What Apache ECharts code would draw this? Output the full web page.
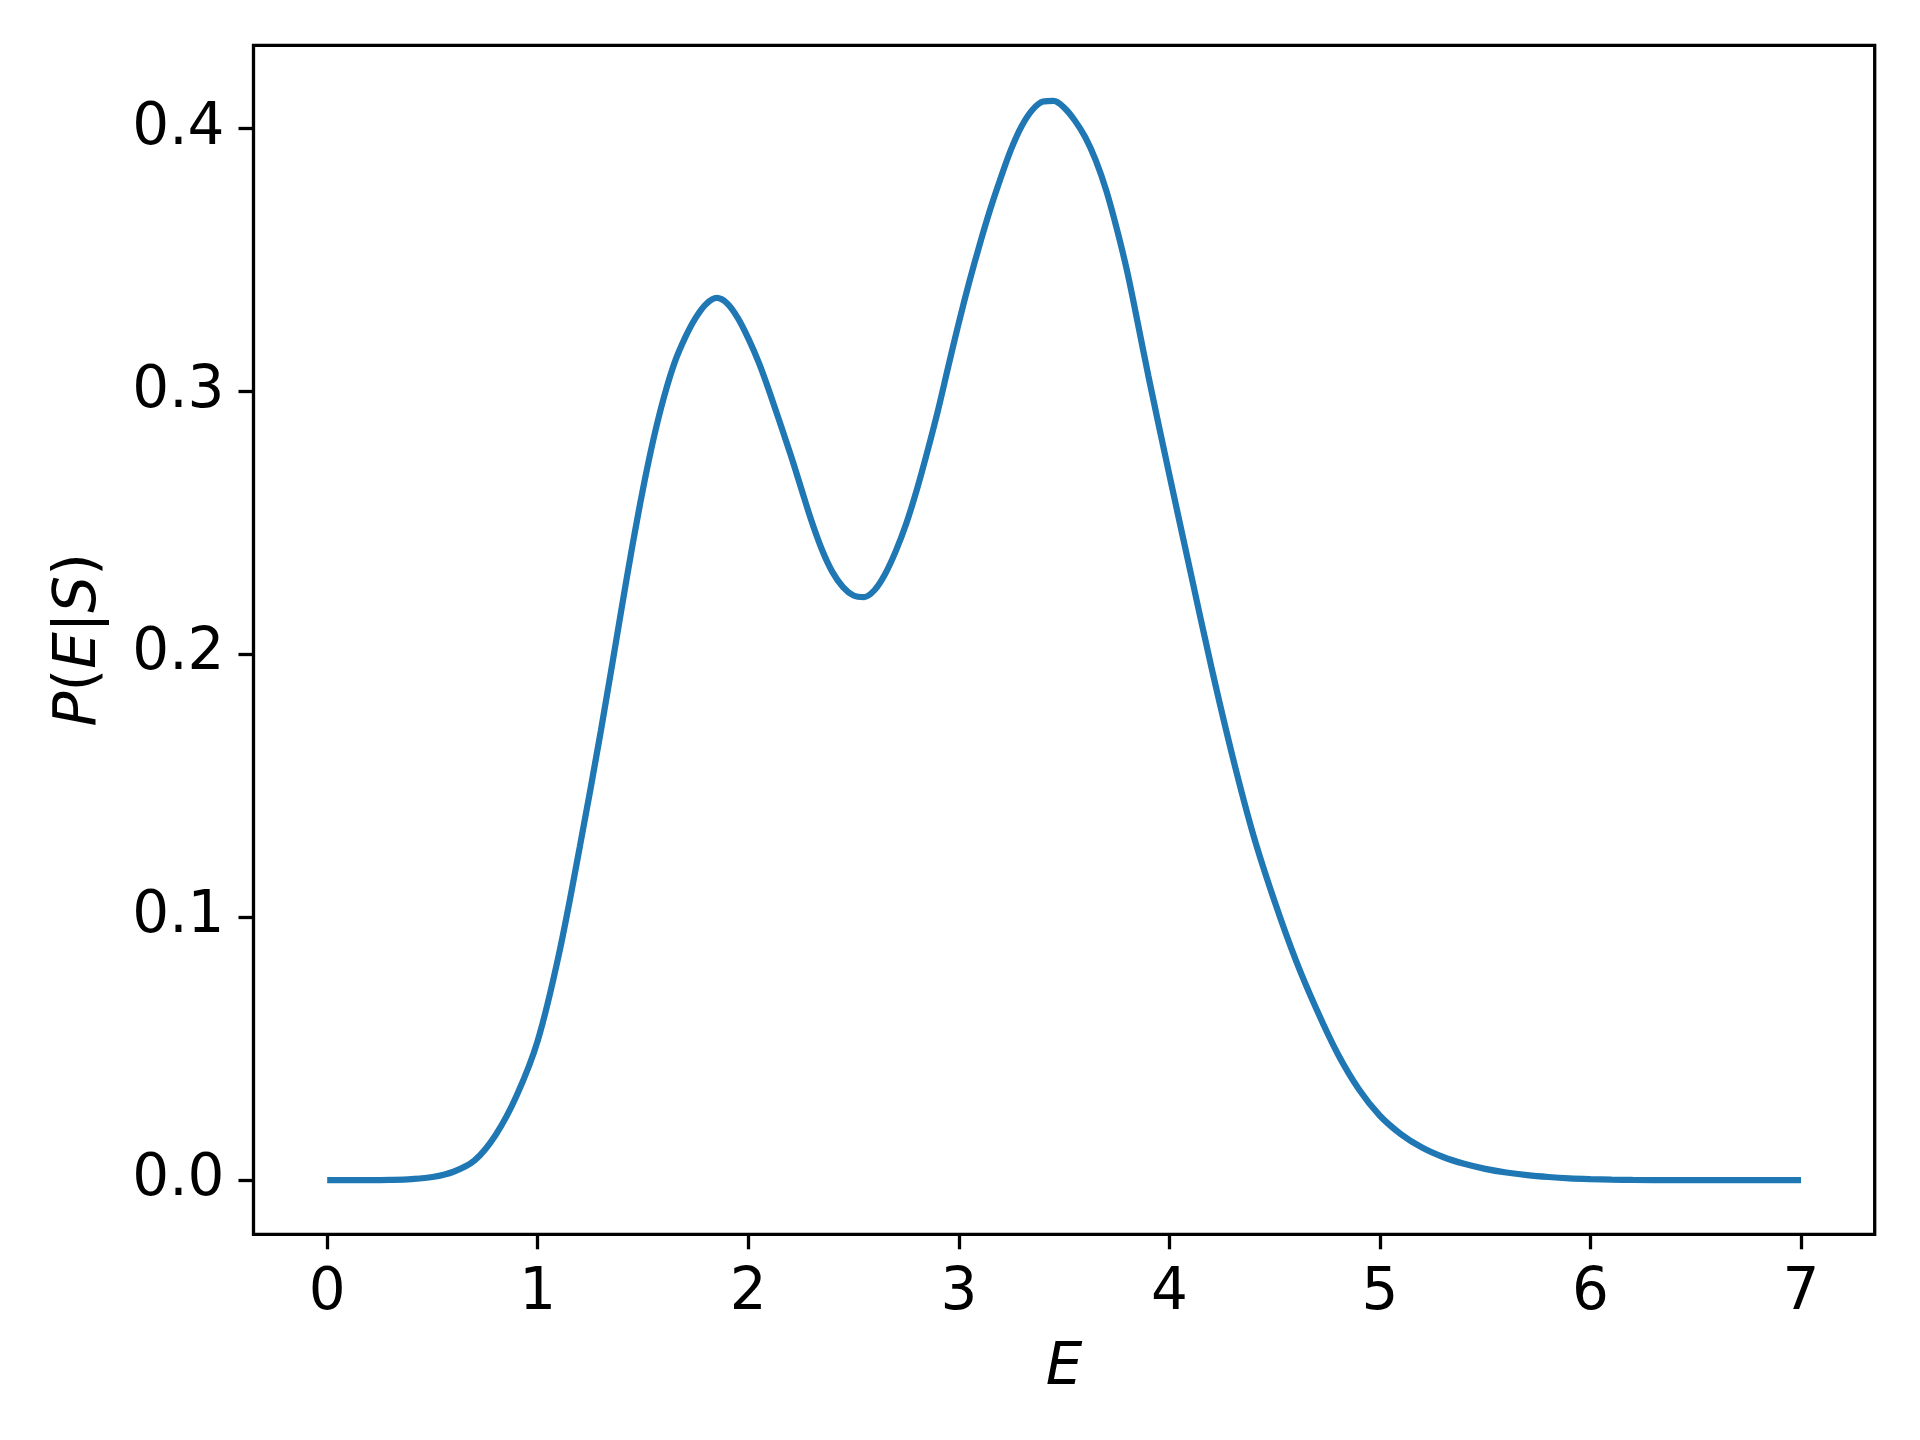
<!DOCTYPE html>
<html>
<head>
<meta charset="utf-8">
<script src="https://cdn.jsdelivr.net/npm/echarts@6/dist/echarts.min.js"></script>
<style>
  html, body { margin: 0; padding: 0; background: #fff; }
  #chart { width: 1920px; height: 1440px; }
</style>
</head>
<body>
<div id="chart"></div>
<script>
// E values (x) and P(E|S), denser around the peaks and the dip
var energy = [
    0.0, 0.1, 0.2, 0.3, 0.4, 0.5, 0.6, 0.7, 0.8, 0.9,
    1.0, 1.1, 1.2, 1.3, 1.4, 1.45, 1.5, 1.55, 1.6, 1.65, 1.7,
    1.75, 1.8, 1.85, 1.9, 1.95, 2.0, 2.05, 2.1, 2.2, 2.25,
    2.3, 2.35, 2.4, 2.45, 2.5, 2.55, 2.6, 2.65, 2.7, 2.75,
    2.8, 2.85, 2.9, 2.95, 3.0, 3.05, 3.1, 3.15, 3.2, 3.25,
    3.3, 3.35, 3.4, 3.45, 3.5, 3.55, 3.6, 3.65, 3.7, 3.75,
    3.8, 3.85, 3.9, 4.0, 4.1, 4.2, 4.3, 4.4, 4.5, 4.6,
    4.7, 4.8, 4.9, 5.0, 5.1, 5.2, 5.3, 5.4, 5.5, 5.6,
    5.7, 5.8, 5.9, 6.0, 6.1, 6.2, 6.4, 6.6, 6.8, 7.0
]
var prob = [
    0.0000, 0.0000, 0.0000, 0.0001, 0.0004, 0.0012, 0.0032, 0.0075, 0.0172, 0.0322,
    0.0531, 0.0857, 0.1269, 0.1710, 0.2183, 0.2415, 0.2630, 0.2820, 0.2980, 0.3110, 0.3205,
    0.3280, 0.3333, 0.3356, 0.3335, 0.3280, 0.3202, 0.3110, 0.3000, 0.2762, 0.2635,
    0.2508, 0.2398, 0.2313, 0.2256, 0.2224, 0.2218, 0.2245, 0.2306, 0.2392, 0.2497,
    0.2625, 0.2770, 0.2925, 0.3095, 0.3262, 0.3418, 0.3562, 0.3695, 0.3815, 0.3925,
    0.4012, 0.4072, 0.4103, 0.4106, 0.4080, 0.4032, 0.3968, 0.3880, 0.3765, 0.3620,
    0.3455, 0.3260, 0.3060, 0.2683, 0.2315, 0.1950, 0.1612, 0.1310, 0.1060, 0.0838,
    0.0648, 0.0480, 0.0346, 0.0245, 0.0175, 0.0124, 0.0088, 0.0062, 0.0043, 0.0029,
    0.0019, 0.0012, 0.0007, 0.0004, 0.0002, 0.0001, 0.0000, 0.0000, 0.0000, 0.0000
]
var xTicks = [0, 1, 2, 3, 4, 5, 6, 7]
var yTicks = [0, 0.1, 0.2, 0.3, 0.4]

var fontSize = 58
var tickStyle = { show: true, inside: false, length: 15, lineStyle: { color: '#000', width: 3.3 } }

var chart = echarts.init(document.getElementById('chart'))
var option = {
    backgroundColor: '#fff',
    animation: false,
    grid: {
        left: 253.5,
        right: 45.3,
        top: 45.3,
        bottom: 205.7,
        show: true,
        borderColor: '#000',
        borderWidth: 3.3,
        containLabel: false
    },
    xAxis: {
        type: 'value',
        min: -0.35,
        max: 7.35,
        name: 'E',
        nameLocation: 'middle',
        nameGap: 106,
        nameTextStyle: { fontFamily: 'DejaVu Sans', fontSize: fontSize, fontStyle: 'italic', color: '#000' },
        axisLine: { show: false, onZero: false },
        axisTick: Object.assign({ customValues: xTicks }, tickStyle),
        axisLabel: {
            customValues: xTicks,
            margin: 31,
            fontFamily: 'DejaVu Sans',
            fontSize: fontSize,
            color: '#000'
        },
        splitLine: { show: false }
    },
    yAxis: {
        type: 'value',
        min: -0.0206,
        max: 0.4317,
        name: '{i|P}{n|(}{i|E}{n||}{i|S}{n|)}',
        nameLocation: 'middle',
        nameGap: 145,
        nameRotate: 90,
        nameTextStyle: {
            color: '#000',
            rich: {
                i: { fontFamily: 'DejaVu Sans', fontSize: fontSize, fontStyle: 'italic', color: '#000' },
                n: { fontFamily: 'DejaVu Sans', fontSize: fontSize, color: '#000' }
            }
        },
        axisLine: { show: false, onZero: false },
        axisTick: Object.assign({ customValues: yTicks }, tickStyle),
        axisLabel: {
            customValues: yTicks,
            margin: 29,
            fontFamily: 'DejaVu Sans',
            fontSize: fontSize,
            color: '#000',
            formatter: function (v) { return v.toFixed(1) }
        },
        splitLine: { show: false }
    },
    series: [
        {
            type: 'line',
            data: energy.map(function (e, i) { return [e, prob[i]] }),
            showSymbol: false,
            smooth: 0.35,
            lineStyle: { color: '#1f77b4', width: 6.25, cap: 'butt' },
            itemStyle: { color: '#1f77b4' }
        }
    ]
}
chart.setOption(option)
</script>
</body>
</html>
